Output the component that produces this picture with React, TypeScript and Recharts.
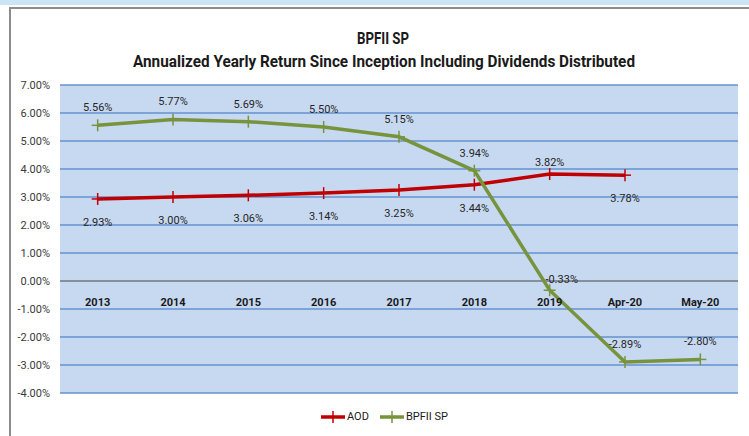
import React from 'react';
import { LineChart, Line, XAxis, YAxis, CartesianGrid, ReferenceLine, LabelList } from 'recharts';

const categories = ['2013', '2014', '2015', '2016', '2017', '2018', '2019', 'Apr-20', 'May-20'];
const aodValues = [2.93, 3.0, 3.06, 3.14, 3.25, 3.44, 3.82, 3.78, null];
const bpfiiValues = [5.56, 5.77, 5.69, 5.5, 5.15, 3.94, -0.33, -2.89, -2.8];
const yTicks = [-4, -3, -2, -1, 0, 1, 2, 3, 4, 5, 6, 7];
const seriesNames = ['AOD', 'BPFII SP'];
const titleText = 'BPFII SP';
const subtitleText = 'Annualized Yearly Return Since Inception Including Dividends Distributed';

const data = categories.map((name, i) => ({ name, aod: aodValues[i], bpfii: bpfiiValues[i] }));

const WIDTH = 749;
const HEIGHT = 436;
const X_AXIS_H = 1;
const MARGIN = { top: 85, right: 11, bottom: 43 - X_AXIS_H, left: 10 };
const Y_MIN = -4;
const Y_MAX = 7;
const PLOT_TOP = MARGIN.top;
const PLOT_BOTTOM = HEIGHT - MARGIN.bottom - X_AXIS_H;
const ZERO_Y = PLOT_BOTTOM - ((0 - Y_MIN) / (Y_MAX - Y_MIN)) * (PLOT_BOTTOM - PLOT_TOP);
const PLOT_WIDTH = WIDTH - MARGIN.left - MARGIN.right - 50;
const HALF_BAND = PLOT_WIDTH / categories.length / 2;

const RED = '#c00000';
const GREEN = '#77933c';
const FONT = "Roboto, 'Noto Sans', sans-serif";

const fmt = (v: number) => `${v.toFixed(2)}%`;

const PlusDot = (color: string) => (props: any) => {
    const { cx, cy, index } = props;
    if (cx == null || cy == null || props.value == null) return <g key={index} />;
    return (
        <g key={index}>
            <line x1={cx} y1={cy - 6} x2={cx} y2={cy + 6} stroke={color} strokeWidth={1.5} />
            <line x1={cx - 6} y1={cy} x2={cx + 6} y2={cy} stroke={color} strokeWidth={1.5} />
        </g>
    );
};

const CategoryTick = (props: any) => {
    const { x, payload } = props;
    return (
        <text x={x} y={ZERO_Y + 25} textAnchor="middle" fontSize={11} fontWeight="bold" fill="#1a1a1a">
            {payload.value}
        </text>
    );
};

const aodMax = Math.max(...(aodValues.filter((v) => v != null) as number[]));

const renderAodLabel = (props: any) => {
    const { x, y, value } = props;
    if (value == null) return null;
    const above = value === aodMax;
    return (
        <text x={x} y={above ? y - 8 : y + 27} textAnchor="middle" fontSize={11} fill="#262626">
            {fmt(value)}
        </text>
    );
};

const renderBpfiiLabel = (props: any) => {
    const { x, y, value } = props;
    if (value == null) return null;
    const nearZero = Math.abs(value) < 1;
    return (
        <text
            x={nearZero ? x + 12 : x}
            y={nearZero ? y - 7 : y - 14}
            textAnchor="middle"
            fontSize={11}
            fill="#262626"
        >
            {fmt(value)}
        </text>
    );
};

const LegendItem = ({ color, label }: { color: string; label: string }) => (
    <span style={{ display: 'inline-flex', alignItems: 'center', marginRight: 10 }}>
        <svg width={26} height={12}>
            <line x1={1} y1={6} x2={25} y2={6} stroke={color} strokeWidth={3.5} />
            <line x1={13} y1={0} x2={13} y2={12} stroke={color} strokeWidth={1.5} />
        </svg>
        <span style={{ fontSize: 11, color: '#1a1a1a', marginLeft: 1 }}>{label}</span>
    </span>
);

export default function App() {
    return (
        <div
            style={{
                position: 'absolute',
                left: 0,
                top: 0,
                width: WIDTH,
                height: HEIGHT,
                background: '#fff',
                fontFamily: FONT,
                overflow: 'hidden',
            }}
        >
            <div style={{ position: 'absolute', left: 0, top: 0, width: WIDTH, height: 5, background: '#cde3f6' }} />
            <div
                style={{
                    position: 'absolute',
                    left: 9,
                    top: 7,
                    right: 0,
                    bottom: 0,
                    borderLeft: '2px solid #8c8c8c',
                    borderTop: '2px solid #8c8c8c',
                }}
            />
            <svg style={{ position: 'absolute', left: 0, top: 0 }} width={WIDTH} height={80}>
                <text
                    x={383}
                    y={44}
                    textAnchor="middle"
                    fontSize={17}
                    fontWeight="bold"
                    fill="#1a1a1a"
                    textLength={52}
                    lengthAdjust="spacingAndGlyphs"
                >
                    {titleText}
                </text>
                <text
                    x={384}
                    y={67}
                    textAnchor="middle"
                    fontSize={17}
                    fontWeight="bold"
                    fill="#1a1a1a"
                    textLength={502}
                    lengthAdjust="spacingAndGlyphs"
                >
                    {subtitleText}
                </text>
            </svg>
            <LineChart
                width={WIDTH}
                height={HEIGHT}
                data={data}
                margin={MARGIN}
                style={{ position: 'absolute', left: 0, top: 0 }}
            >
                <CartesianGrid vertical={false} fill="#c6d9f1" stroke="#6592cf" strokeWidth={1.5} />
                <YAxis
                    width={50}
                    domain={[Y_MIN, Y_MAX]}
                    ticks={yTicks}
                    axisLine={false}
                    tickLine={false}
                    tickSize={0}
                    tickMargin={10}
                    tickFormatter={fmt}
                    tick={{ fontSize: 11, fill: '#3a3a3a' }}
                />
                <ReferenceLine y={0} stroke="#8a8a8a" strokeWidth={1.5} />
                <XAxis
                    dataKey="name"
                    height={X_AXIS_H}
                    axisLine={false}
                    tickLine={false}
                    interval={0}
                    padding={{ left: HALF_BAND, right: HALF_BAND }}
                    tick={<CategoryTick />}
                />
                <Line
                    dataKey="aod"
                    name={seriesNames[0]}
                    stroke={RED}
                    strokeWidth={3.5}
                    dot={PlusDot(RED)}
                    activeDot={false}
                    isAnimationActive={false}
                >
                    <LabelList dataKey="aod" content={renderAodLabel} />
                </Line>
                <Line
                    dataKey="bpfii"
                    name={seriesNames[1]}
                    stroke={GREEN}
                    strokeWidth={3.5}
                    dot={PlusDot(GREEN)}
                    activeDot={false}
                    isAnimationActive={false}
                >
                    <LabelList dataKey="bpfii" content={renderBpfiiLabel} />
                </Line>
            </LineChart>
            <div
                style={{
                    position: 'absolute',
                    left: 320,
                    top: 410,
                    display: 'flex',
                    alignItems: 'center',
                }}
            >
                <LegendItem color={RED} label={seriesNames[0]} />
                <LegendItem color={GREEN} label={seriesNames[1]} />
            </div>
        </div>
    );
}
